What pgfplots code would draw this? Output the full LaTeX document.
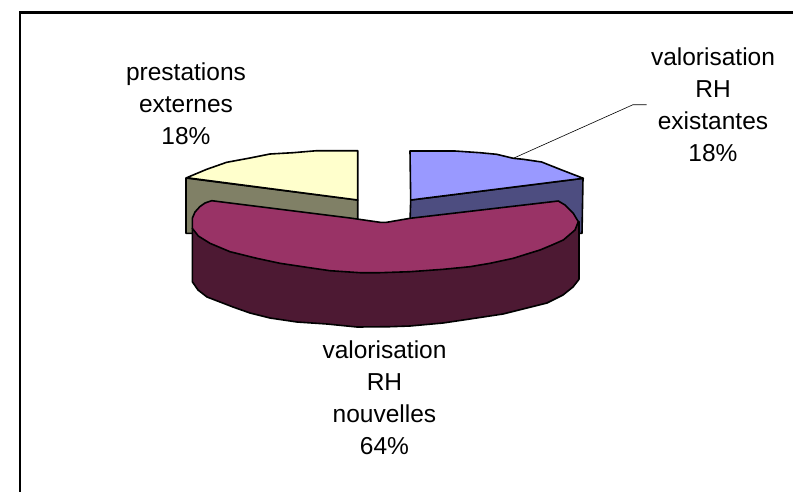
\documentclass[border=0pt]{standalone}
\usepackage{fontspec}
\setmainfont{Liberation Sans}
\usepackage{pgfplots}
\pgfplotsset{compat=1.18}

\definecolor{crimsontop}{HTML}{993366}
\definecolor{crimsonside}{HTML}{4D1933}
\definecolor{yellowtop}{HTML}{FFFFCC}
\definecolor{yellowside}{HTML}{808066}
\definecolor{bluetop}{HTML}{9999FF}
\definecolor{blueside}{HTML}{4D4D80}

\tikzset{lab/.style={inner sep=0pt, align=center, text=black, font=\fontsize{24.5}{32}\selectfont}}

\begin{document}
\begin{tikzpicture}
\begin{axis}[
	name=pie,
	scale only axis,
	width=793pt, height=491pt,
	xmin=0, xmax=793, ymin=0, ymax=491,
	y dir=reverse,
	axis lines=none,
	ticks=none,
	no markers,
	every axis plot/.append style={line join=round, line width=1.6pt},
]
% frame, only left and top are inside the picture
\addplot[black, line width=2.4pt, line join=miter] coordinates {(20,495)(20,12.5)(797,12.5)};

% prestations externes
\addplot[fill=yellowside, draw=black] coordinates {
	(186,178)(357.7,200)(357.7,222)(192,233.3)(186,233.3)
} --cycle;
\addplot[fill=yellowtop, draw=black] coordinates {
	(357.7,200)(357.7,150.7)(316.7,150.7)(293,152.7)(270,154)(250,158)
	(226.7,162.3)(206.7,169.3)(186.7,177.7)
} --cycle;

% valorisation RH existantes
\addplot[fill=blueside, draw=black] coordinates {
	(410.7,200)(583,178.3)(582,233.3)(575,233.3)(410,222)
} --cycle;
\addplot[fill=bluetop, draw=black] coordinates {
	(410,151)(455,151)(480,152.7)(496.7,154.3)(513.3,158.3)(523.3,159.3)
	(541.7,162)(560,169.3)(583.3,178.3)(410.7,200)
} --cycle;

% valorisation RH nouvelles
\addplot[fill=crimsonside, draw=black] coordinates {
	(192.3,228.3)(192.3,281.7)(198,290)(207,297)(220,302)(233,307)(250,313)
	(270,318)(297,322)(327,324)(357,327)(390,326.7)(410,326)(443,323)
	(470,319)(503,314)(527,308)(547,303)(563,295)(573,287)(579,279.3)(579,221.7)
} --cycle;
\addplot[fill=crimsontop, draw=black] coordinates {
	(211.7,200.7)(350,218)(380,222.3)(386.7,222.3)(410,218.3)(558.3,201)(565,205)
	(573.3,213.3)(578.3,221.7)(575,230)(563.3,240)(552,245)(540,250)(527,254)(513.3,258.3)
	(490,263.3)(470,266.7)(443.3,269.3)(410,271.7)(380,272.7)(360,272.7)
	(330,270.7)(306.7,267.3)(280,263.3)(256.7,258.3)(230,251.7)(210,243.3)
	(198.3,236)(192.3,228.3)(192.3,218.3)(195,212)(200,206.5)(205,203)
} --cycle;

% leader line
\addplot[black, line width=0.6pt] coordinates {(513.3,158.3)(633,104.7)(646.7,104.7)};

\node[lab] at (axis cs:713,104.5) {valorisation\\RH\\existantes\\18\%};
\node[lab] at (axis cs:186,104) {prestations\\externes\\18\%};
\node[lab] at (axis cs:384.5,398) {valorisation\\RH\\nouvelles\\64\%};
\end{axis}
% hidden axis leaves no box of its own, so keep the full page size
\pgfresetboundingbox
\path (0,0) rectangle (793pt,491pt);
\end{tikzpicture}
\end{document}
